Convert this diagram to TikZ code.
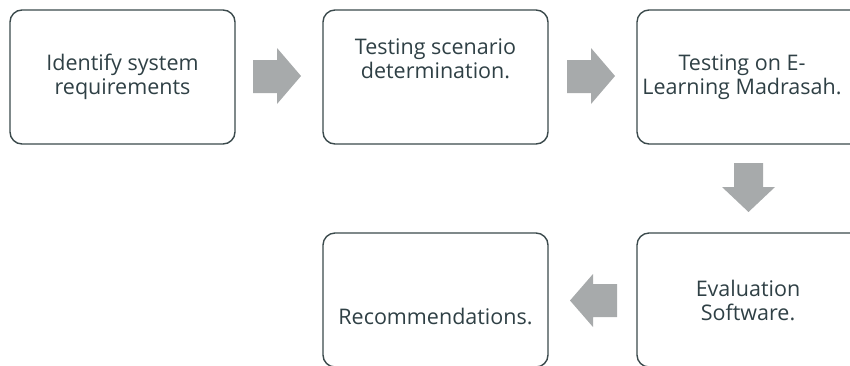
\documentclass[tikz,border=0pt]{standalone}
\usepackage{fontspec}
\setmainfont{Open Sans}
\begin{document}
\begin{tikzpicture}[x=1pt,y=-1pt,
  stepbox/.style={draw=boxline, line width=1.4pt, rounded corners=12pt, minimum width=225pt, minimum height=134pt, inner sep=0pt},
  steptext/.style={text=txt, font=\fontsize{21.5}{24}\selectfont, align=center, inner sep=0pt},
  blockarrow/.style={fill=arrgray, draw=none}]
\definecolor{boxline}{HTML}{3B4A4C}
\definecolor{txt}{HTML}{2F4045}
\definecolor{arrgray}{HTML}{A7AAAB}
\useasboundingbox (0,0) rectangle (850,365);
\begin{scope}
\clip (0,0) rectangle (850,365);
\node[stepbox] (b1) at (122.5,77) {};
\node[stepbox] (b2) at (435.5,77) {};
\node[stepbox] (b3) at (749.5,77) {};
\node[stepbox] (b4) at (749.5,300) {};
\node[stepbox] (b5) at (435.5,300) {};
\end{scope}
\node[steptext] (t1) at (122.5,77) {Identify system\\requirements};
\node[steptext] (t2) at (435.5,59) {Testing scenario\\determination.};
\node[steptext] (t3) at (742,77) {Testing on E-\\Learning Madrasah.};
\node[steptext] (t4) at (748,300) {Evaluation\\Software.};
\node[steptext] (t5) at (435.5,316) {Recommendations.};
% block arrows
\fill[blockarrow] (253,60) -- (277,60) -- (277,48) -- (301,76) -- (277,104) -- (277,93) -- (253,93) -- cycle;
\fill[blockarrow] (567,60) -- (591,60) -- (591,48) -- (615,76) -- (591,104) -- (591,93) -- (567,93) -- cycle;
\fill[blockarrow] (734,163) -- (763,163) -- (763,187) -- (775,187) -- (748.5,212) -- (722,187) -- (734,187) -- cycle;
\fill[blockarrow] (617,284) -- (617,317) -- (593,317) -- (593,327) -- (570,300.5) -- (593,274) -- (593,284) -- cycle;
\end{tikzpicture}
\end{document}
